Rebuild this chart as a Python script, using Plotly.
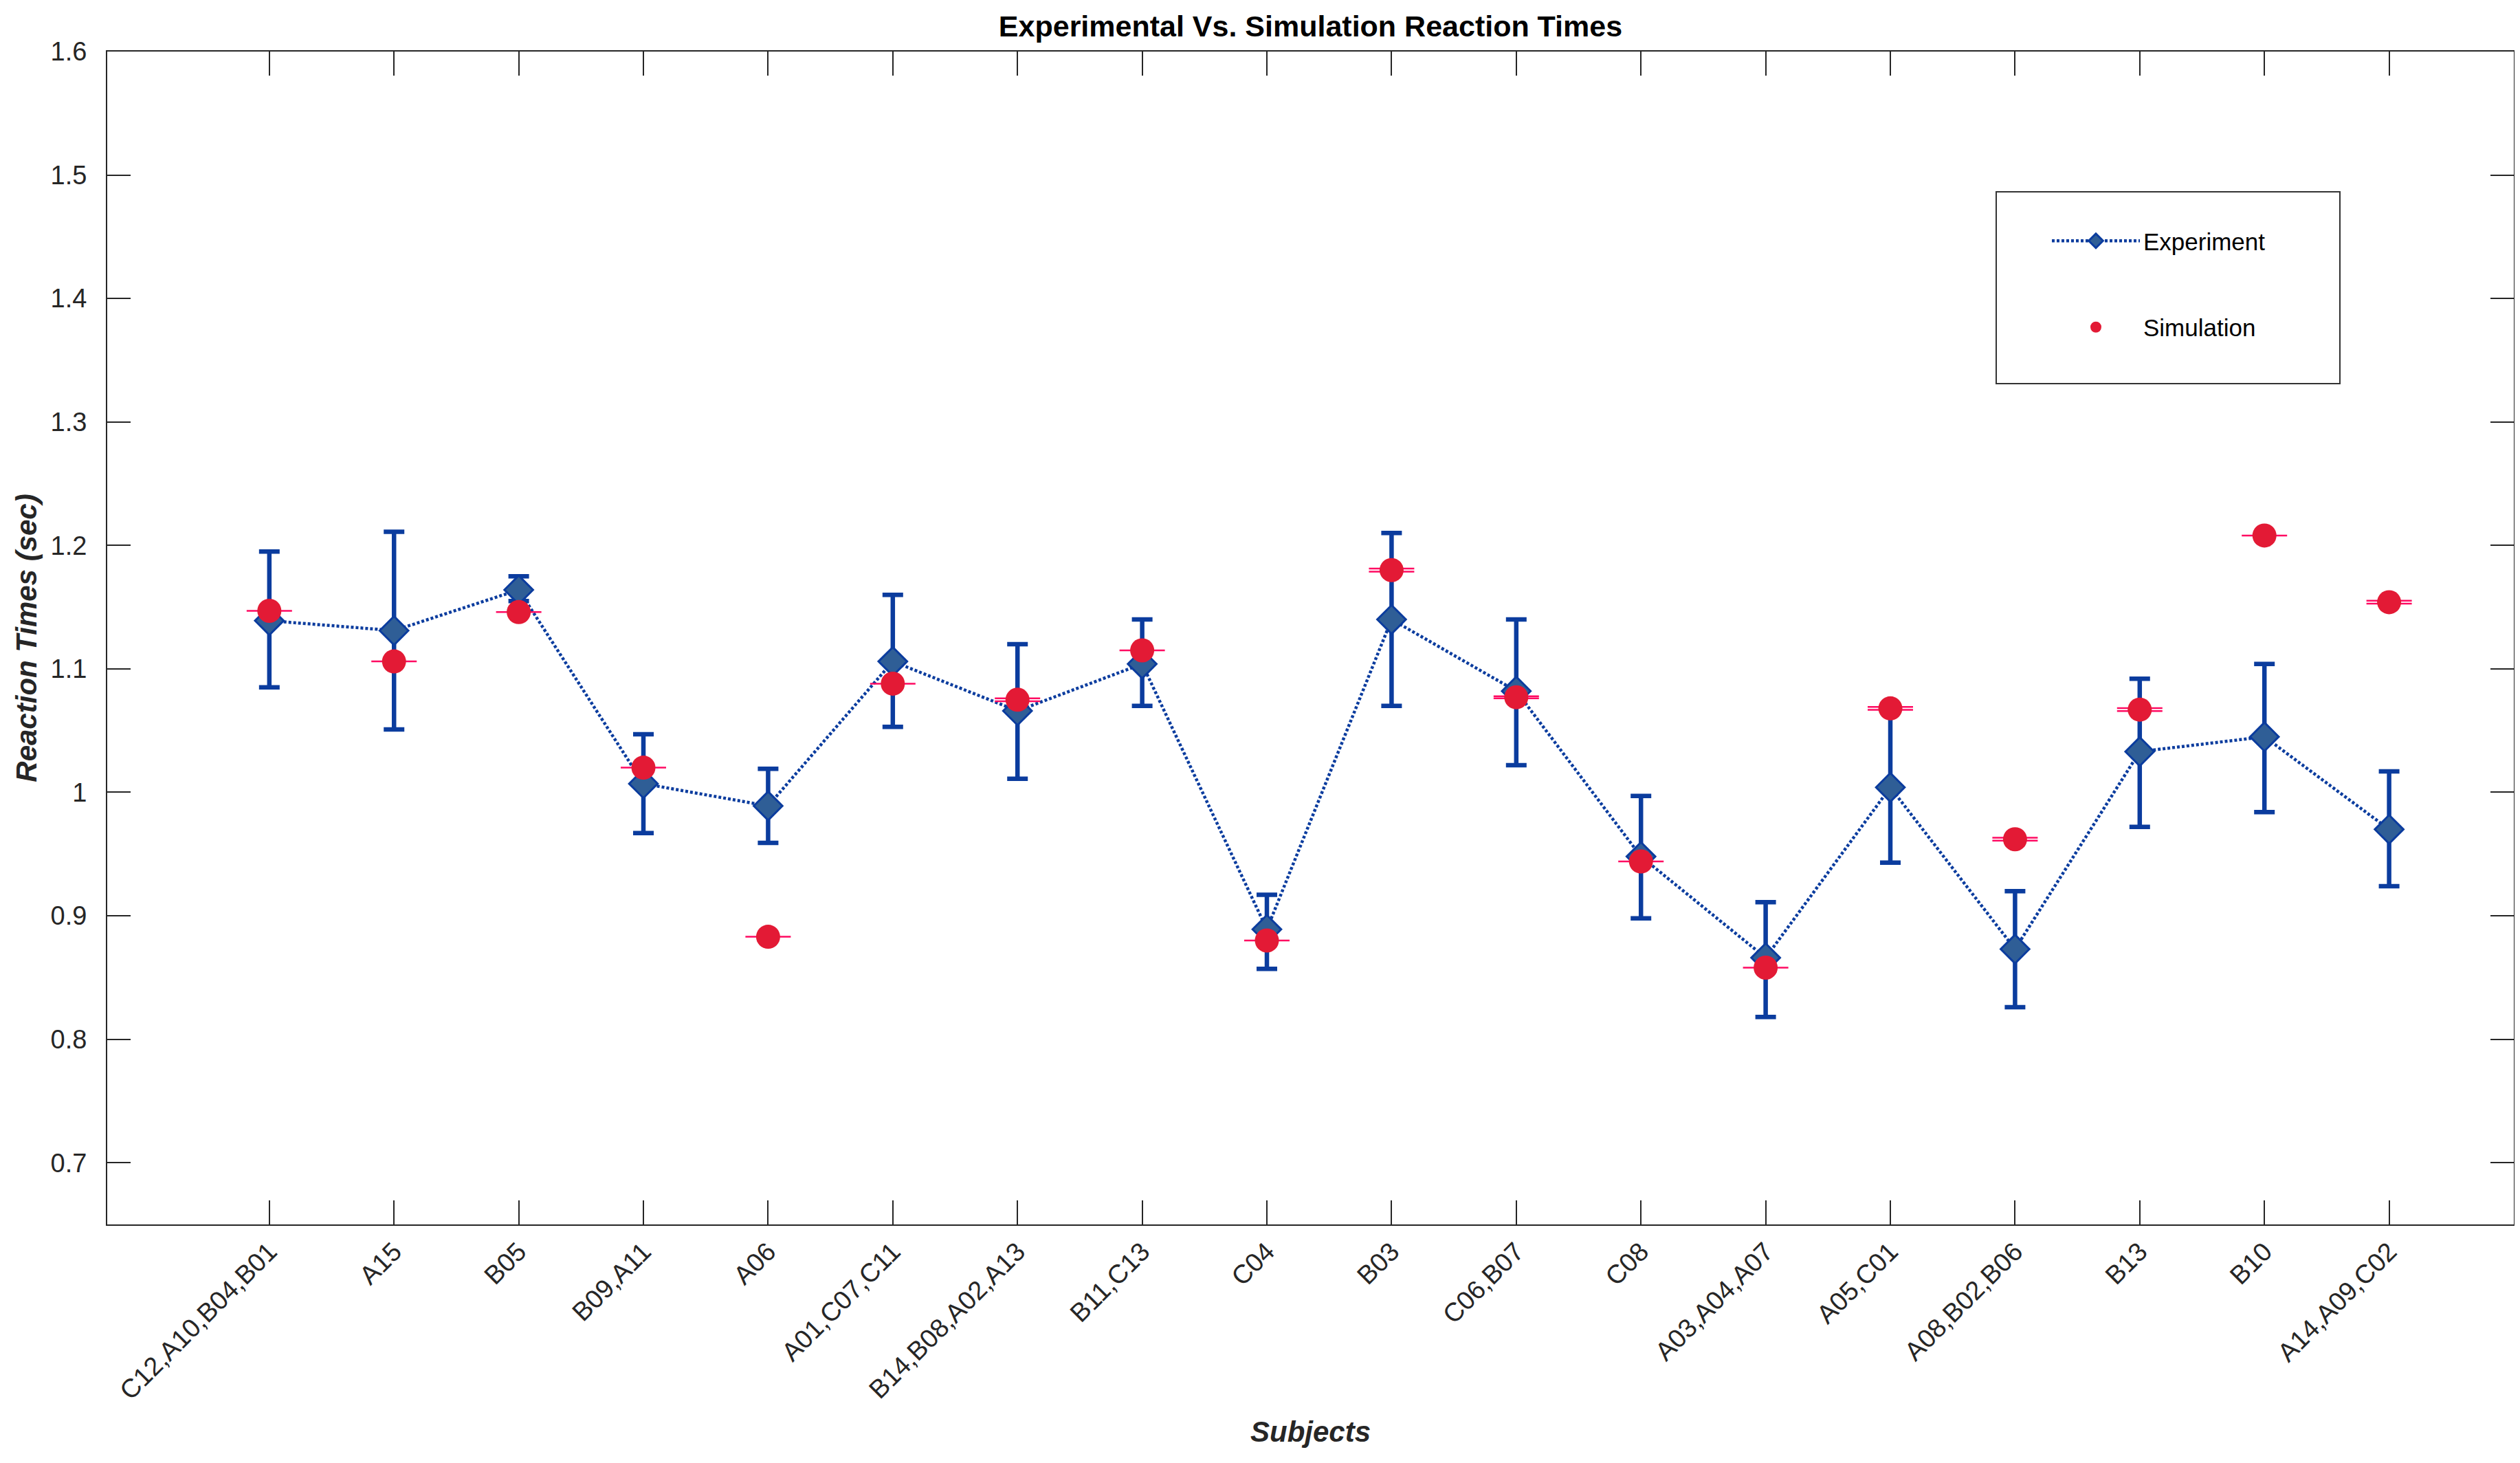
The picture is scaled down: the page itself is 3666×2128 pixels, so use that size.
import plotly.graph_objects as go

subjects = ["C12,A10,B04,B01", "A15", "B05", "B09,A11", "A06", "A01,C07,C11",
            "B14,B08,A02,A13", "B11,C13", "C04", "B03", "C06,B07", "C08",
            "A03,A04,A07", "A05,C01", "A08,B02,B06", "B13", "B10", "A14,A09,C02"]
positions = list(range(1, len(subjects) + 1))

exp_mean = [1.139, 1.131, 1.164, 1.007, 0.989, 1.106, 1.066, 1.104, 0.889,
            1.140, 1.082, 0.948, 0.866, 1.004, 0.873, 1.033, 1.045, 0.970]
exp_upper = [1.195, 1.211, 1.175, 1.047, 1.019, 1.160, 1.120, 1.140, 0.917,
             1.210, 1.140, 0.997, 0.911, 1.067, 0.920, 1.092, 1.104, 1.017]
exp_lower = [1.085, 1.051, 1.155, 0.967, 0.959, 1.053, 1.011, 1.070, 0.857,
             1.070, 1.022, 0.898, 0.818, 0.943, 0.826, 0.972, 0.984, 0.924]

sim_mean = [1.147, 1.106, 1.146, 1.020, 0.883, 1.088, 1.075, 1.115, 0.880,
            1.180, 1.077, 0.944, 0.858, 1.068, 0.962, 1.067, 1.208, 1.154]
sim_err = [0, 0, 0, 0, 0, 0, 0.0012, 0, 0,
           0.0012, 0.0008, 0, 0, 0.0012, 0.0012, 0.0012, 0, 0.0012]

y_ticks = [0.7, 0.8, 0.9, 1.0, 1.1, 1.2, 1.3, 1.4, 1.5, 1.6]
y_ticktext = ["0.7", "0.8", "0.9", "1", "1.1", "1.2", "1.3", "1.4", "1.5", "1.6"]

err_plus = [u - m for u, m in zip(exp_upper, exp_mean)]
err_minus = [m - l for m, l in zip(exp_mean, exp_lower)]

BLUE = "#0B3C9E"
DFILL = "#2F5E96"
RED = "#E31A35"
PINK = "#FF0A62"
AXC = "#262626"
FONT = "Liberation Sans, Arial, sans-serif"
NB = "\u00a0"

fig = go.Figure()
fig.add_trace(go.Scatter(
    x=positions, y=exp_mean, name="Experiment" + NB * 9,
    legendgroup="exp",
    mode="lines+markers",
    line=dict(color=BLUE, width=4.5, dash="4px,3px"),
    marker=dict(symbol="diamond", size=32, color=DFILL, line=dict(color=BLUE, width=3)),
    error_y=dict(type="data", symmetric=False, array=err_plus, arrayminus=err_minus,
                 color=BLUE, thickness=6.5, width=15),
))
fig.add_trace(go.Scatter(
    x=positions, y=sim_mean, name="Simulation" + NB * 9,
    legendgroup="sim",
    mode="markers",
    marker=dict(symbol="circle", size=35, color=RED, line=dict(width=0)),
    error_y=dict(type="data", array=sim_err, color=PINK, thickness=2.5, width=33),
))

L, R, T, B = 148, 17, 67, 355
W, H = 3666, 2128
pw, ph = W - L - R, H - T - B

def px_x(x):
    return (x - L) / pw

def px_y(y):
    return (H - B - y) / ph

fig.update_layout(
    width=W, height=H,
    margin=dict(l=L, r=R, t=T, b=B, autoexpand=False),
    paper_bgcolor="white", plot_bgcolor="white",
    font=dict(family=FONT, color=AXC, size=38),
    title=dict(text="<b>Experimental Vs. Simulation Reaction Times</b>",
               x=0.5, xref="paper", xanchor="center",
               y=1 - 30 / H, yref="container", yanchor="middle",
               font=dict(family=FONT, size=43, color="black")),
    showlegend=True,
    legend=dict(x=px_x(2972), y=px_y(313), xanchor="left", yanchor="top",
                bgcolor="rgba(0,0,0,0)", borderwidth=0,
                font=dict(family=FONT, size=35, color="black"),
                itemwidth=128, traceorder="grouped", tracegroupgap=77,
                itemclick=False),
    shapes=[dict(type="rect", xref="paper", yref="paper",
                 x0=px_x(2896), x1=px_x(3396), y0=px_y(550), y1=px_y(271),
                 line=dict(color="#333333", width=2), fillcolor="rgba(0,0,0,0)",
                 layer="above")],
)

fig.update_xaxes(
    range=[-0.3, 19], tickvals=positions, ticktext=subjects, tickangle=-45,
    ticks="inside", ticklen=35, tickwidth=2, tickcolor=AXC,
    showline=True, linecolor=AXC, linewidth=2, mirror="ticks",
    showgrid=False, zeroline=False,
    tickfont=dict(family=FONT, size=38, color=AXC),
    ticklabelstandoff=0,
    title=dict(text="<b><i>Subjects</i></b>", standoff=25,
               font=dict(family=FONT, size=42, color=AXC)),
)
fig.update_yaxes(
    range=[0.65, 1.6], tickvals=y_ticks, ticktext=y_ticktext,
    ticks="inside", ticklen=34, tickwidth=2, tickcolor=AXC,
    showline=True, linecolor=AXC, linewidth=2, mirror="ticks",
    showgrid=False, zeroline=False,
    tickfont=dict(family=FONT, size=38, color=AXC),
    ticklabelstandoff=20,
    title=dict(text="<b><i>Reaction Times (sec)</i></b>", standoff=7,
               font=dict(family=FONT, size=42, color=AXC)),
)

fig.write_html("out.html")
